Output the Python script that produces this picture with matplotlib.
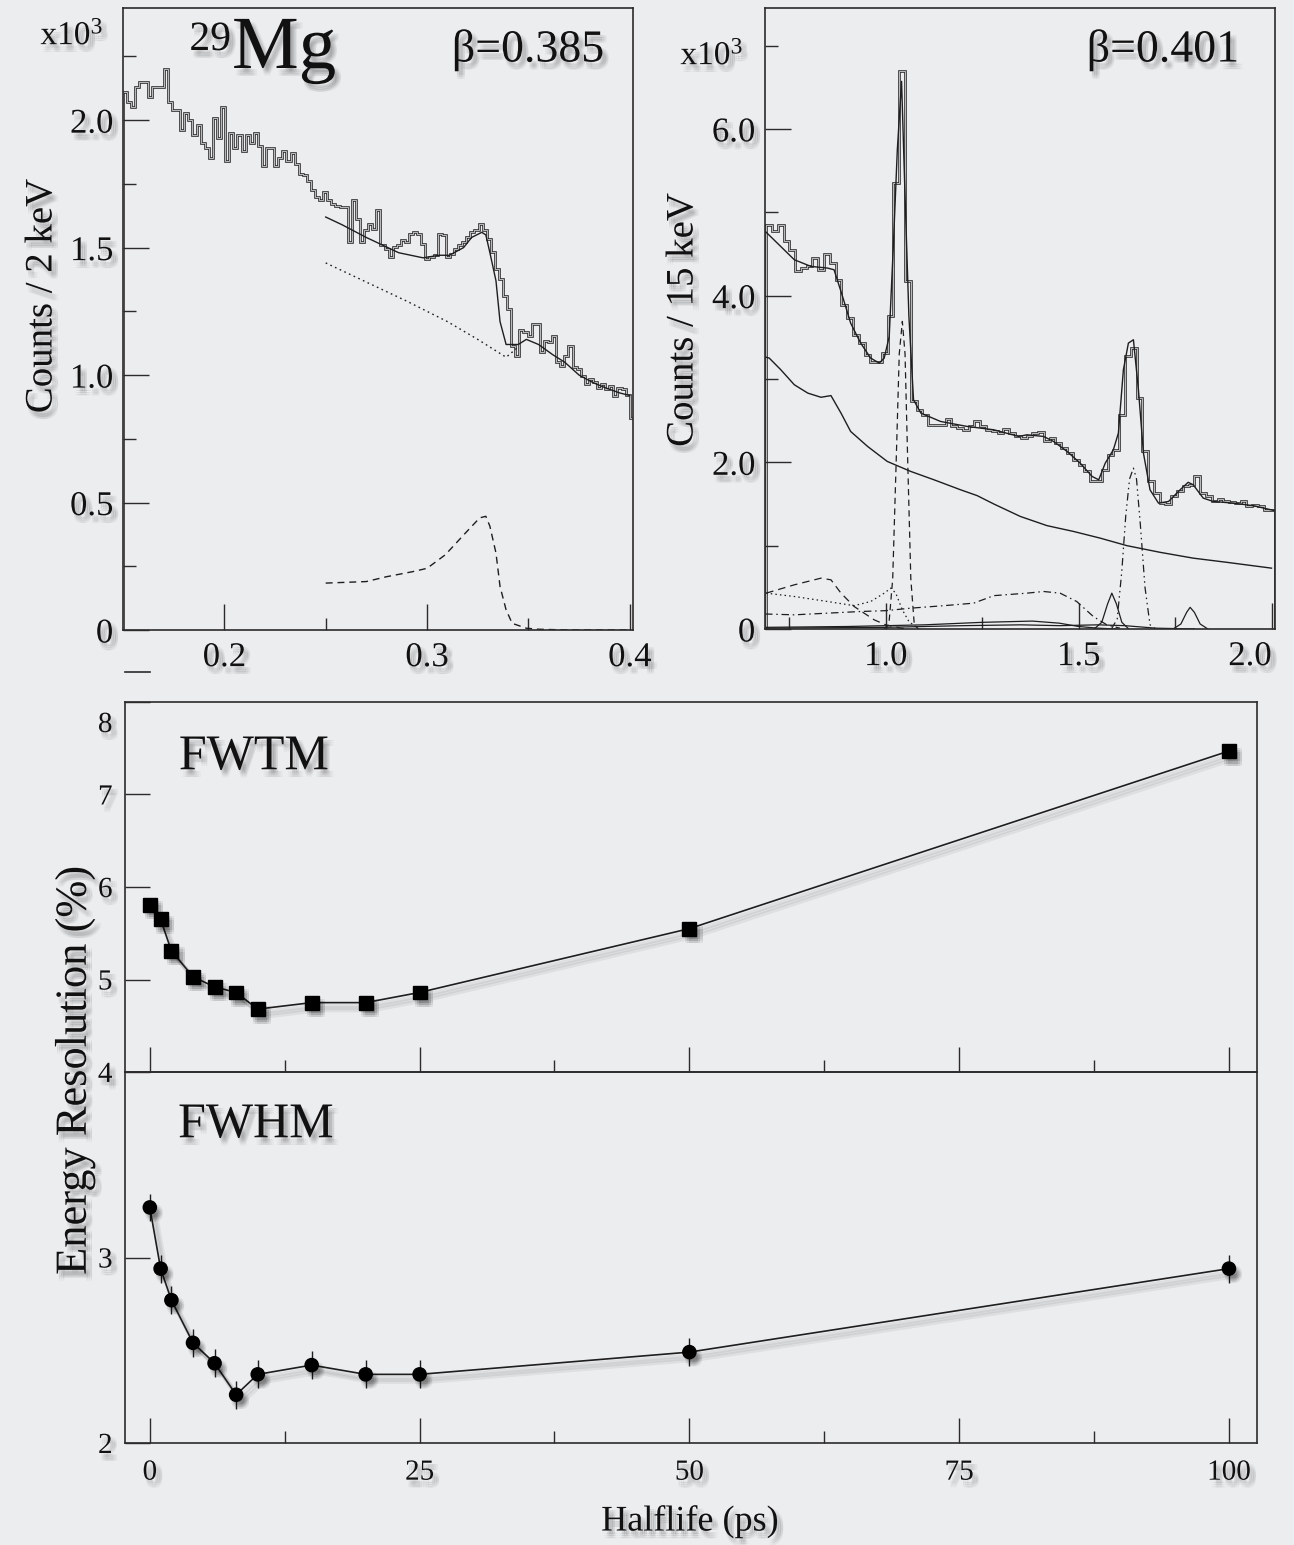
import matplotlib
matplotlib.use('Agg')
import matplotlib.pyplot as plt
import matplotlib.patheffects as pe
from matplotlib.lines import Line2D
from matplotlib.transforms import ScaledTranslation
import numpy as np

plt.rcParams['font.family'] = ['Liberation Serif', 'DejaVu Serif']
plt.rcParams['mathtext.fontset'] = 'custom'
plt.rcParams['mathtext.rm'] = 'Liberation Serif'
plt.rcParams['mathtext.it'] = 'Liberation Serif:italic'

# ---------------- data: 29Mg spectrum, beta = 0.385 (2 keV bins, MeV) ----------------
counts_a = [2.11, 2.07, 2.05, 2.13, 2.15, 2.15, 2.09, 2.13, 2.13, 2.13, 2.20, 2.07, 2.04, 2.04,
            1.96, 2.03, 2.00, 1.94, 1.98, 1.91, 1.89, 1.85, 2.01, 1.93, 2.05, 1.84, 1.95, 1.89,
            1.94, 1.88, 1.94, 1.91, 1.95, 1.90, 1.82, 1.89, 1.89, 1.82, 1.85, 1.88, 1.84, 1.87,
            1.83, 1.79,
            1.785, 1.76, 1.726, 1.70, 1.686, 1.72, 1.686, 1.673, 1.664, 1.66, 1.66, 1.522, 1.686,
            1.614, 1.522, 1.568, 1.594, 1.575, 1.647, 1.509, 1.496, 1.463, 1.503, 1.509, 1.529,
            1.522, 1.555, 1.562, 1.555, 1.516, 1.457, 1.463, 1.47, 1.555, 1.549, 1.463, 1.476,
            1.496, 1.509, 1.522, 1.542, 1.562, 1.568, 1.594, 1.568, 1.535, 1.483, 1.417, 1.378,
            1.312, 1.26, 1.116, 1.076, 1.175, 1.168, 1.155, 1.201, 1.201, 1.09, 1.135, 1.129,
            1.155, 1.05, 1.037, 1.076, 1.116, 1.03, 1.024, 0.997, 0.965, 0.984, 0.971, 0.951,
            0.965, 0.945, 0.958, 0.919, 0.951, 0.945, 0.92, 0.83]
edges_a = np.linspace(0.150, 0.402, len(counts_a) + 1)

fit_a_e = [0.250, 0.258, 0.270, 0.278, 0.286, 0.298, 0.306, 0.311, 0.318, 0.322, 0.327, 0.329,
           0.331, 0.334, 0.336, 0.339, 0.341, 0.345, 0.349, 0.355, 0.362, 0.368, 0.375, 0.382,
           0.388, 0.395, 0.400]
fit_a_v = [1.62, 1.59, 1.54, 1.51, 1.48, 1.46, 1.47, 1.47, 1.50, 1.54, 1.56, 1.55, 1.48, 1.37,
           1.21, 1.12, 1.12, 1.12, 1.14, 1.12, 1.08, 1.05, 1.00, 0.97, 0.95, 0.93, 0.92]
bkg_a_e = [0.250, 0.270, 0.290, 0.310, 0.325, 0.339, 0.345]
bkg_a_v = [1.44, 1.365, 1.29, 1.21, 1.14, 1.07, 1.11]
peak_a_e = [0.250, 0.260, 0.270, 0.280, 0.293, 0.300, 0.309, 0.319, 0.326, 0.329, 0.331, 0.334,
            0.336, 0.339, 0.342, 0.349, 0.355, 0.370, 0.400]
peak_a_v = [0.184, 0.187, 0.190, 0.209, 0.229, 0.242, 0.295, 0.381, 0.440, 0.446, 0.407, 0.302,
            0.171, 0.079, 0.026, 0.007, 0.003, 0.0, 0.0]

# ---------------- data: beta = 0.401 spectrum (15 keV bins, MeV) ----------------
counts_b = [4.85, 4.77, 4.85, 4.65, 4.55, 4.30, 4.33, 4.35, 4.45, 4.31, 4.50, 4.39, 4.19, 3.89,
            3.73, 3.53, 3.43, 3.29, 3.20, 3.20, 3.31, 3.75, 5.35, 6.70, 4.17, 2.73, 2.63, 2.57,
            2.45, 2.45, 2.45, 2.52, 2.43, 2.41, 2.39, 2.43, 2.49, 2.43, 2.39, 2.37, 2.35, 2.40,
            2.35, 2.31, 2.29, 2.32, 2.35, 2.36, 2.25, 2.29, 2.23, 2.17, 2.11, 2.03, 1.97, 1.90,
            1.77, 1.77, 1.91, 2.09, 2.15, 2.57, 3.27, 3.37, 2.77, 2.13, 1.77, 1.63, 1.51, 1.50,
            1.59, 1.65, 1.71, 1.73, 1.83, 1.63, 1.59, 1.53, 1.56, 1.54, 1.52, 1.51, 1.53, 1.48,
            1.49, 1.48, 1.43, 1.43]
edges_b = np.linspace(0.690, 2.010, len(counts_b) + 1)

fit_b_e = [0.690, 0.763, 0.806, 0.849, 0.866, 0.888, 0.909, 0.935, 0.961, 0.983, 0.996, 1.009,
           1.020, 1.030, 1.041, 1.049, 1.060, 1.072, 1.091, 1.142, 1.211, 1.280, 1.345, 1.366,
           1.409, 1.435, 1.470, 1.504, 1.535, 1.552, 1.569, 1.590, 1.603, 1.616, 1.629, 1.642,
           1.655, 1.668, 1.685, 1.707, 1.733, 1.763, 1.784, 1.797, 1.823, 1.849, 1.901, 1.952,
           2.008]
fit_b_v = [4.76, 4.43, 4.35, 4.33, 4.31, 3.99, 3.67, 3.43, 3.25, 3.19, 3.25, 3.51, 4.63, 5.75,
           6.57, 5.35, 3.75, 2.75, 2.59, 2.49, 2.43, 2.39, 2.31, 2.33, 2.31, 2.25, 2.13, 1.99,
           1.83, 1.79, 1.99, 2.15, 2.35, 3.11, 3.43, 3.47, 2.87, 2.11, 1.67, 1.51, 1.53, 1.67,
           1.76, 1.73, 1.57, 1.53, 1.51, 1.48, 1.42]
bkg_b_e = [0.690, 0.698, 0.728, 0.763, 0.798, 0.832, 0.858, 0.884, 0.909, 0.953, 1.004, 1.065,
           1.125, 1.194, 1.237, 1.280, 1.349, 1.418, 1.487, 1.556, 1.625, 1.711, 1.797, 1.884,
           2.000]
bkg_b_v = [3.26, 3.25, 3.11, 2.93, 2.83, 2.78, 2.80, 2.59, 2.37, 2.19, 2.01, 1.89, 1.79, 1.67,
           1.60, 1.50, 1.35, 1.24, 1.17, 1.09, 1.00, 0.92, 0.85, 0.80, 0.73]
pk1_e = [0.995, 1.008, 1.018, 1.027, 1.035, 1.043, 1.050, 1.057, 1.065, 1.074, 1.085]
pk1_v = [0.0, 0.05, 0.6, 2.0, 3.3, 3.69, 3.3, 2.0, 0.6, 0.05, 0.0]
pk2_e = [1.585, 1.600, 1.612, 1.622, 1.632, 1.642, 1.650, 1.660, 1.672, 1.685, 1.700]
pk2_v = [0.0, 0.12, 0.7, 1.35, 1.80, 1.93, 1.80, 1.25, 0.50, 0.05, 0.0]
broad_e = [0.690, 0.763, 0.832, 0.858, 0.884, 0.918, 0.970, 1.000, 1.040, 1.060]
broad_v = [0.43, 0.53, 0.61, 0.59, 0.43, 0.27, 0.11, 0.05, 0.01, 0.0]
dash_dot_e = [0.687, 0.763, 0.849, 0.935, 1.000, 1.065, 1.151, 1.228, 1.280, 1.366, 1.409,
              1.452, 1.495, 1.538, 1.573, 1.607]
dash_dot_v = [0.18, 0.17, 0.19, 0.21, 0.22, 0.25, 0.28, 0.31, 0.40, 0.43, 0.45, 0.43, 0.33,
              0.15, 0.05, 0.01]
dotted_e = [0.690, 0.763, 0.849, 0.918, 0.961, 0.996, 1.013, 1.026, 1.043, 1.060, 1.082]
dotted_v = [0.43, 0.39, 0.33, 0.28, 0.33, 0.43, 0.49, 0.43, 0.23, 0.09, 0.01]
small1_e = [1.540, 1.560, 1.575, 1.586, 1.598, 1.612, 1.630]
small1_v = [0.0, 0.08, 0.30, 0.43, 0.30, 0.08, 0.0]
small2_e = [1.745, 1.765, 1.780, 1.789, 1.800, 1.815, 1.835]
small2_v = [0.0, 0.06, 0.20, 0.26, 0.20, 0.06, 0.0]
lowa_e = [0.690, 0.900, 1.100, 1.250, 1.380, 1.450, 1.500, 1.550, 1.600]
lowa_v = [0.02, 0.03, 0.05, 0.08, 0.095, 0.07, 0.03, 0.01, 0.0]
lowb_e = [0.690, 1.000, 1.200, 1.350, 1.450, 1.550, 1.620, 1.700, 1.800]
lowb_v = [0.01, 0.02, 0.04, 0.05, 0.04, 0.05, 0.04, 0.01, 0.0]

# ---------------- data: energy resolution vs halflife ----------------
halflife = [0, 1, 2, 4, 6, 8, 10, 15, 20, 25, 50, 100]
fwtm = [5.81, 5.65, 5.31, 5.03, 4.92, 4.86, 4.68, 4.75, 4.75, 4.86, 5.55, 7.47]
fwhm = [3.27, 2.94, 2.77, 2.54, 2.43, 2.26, 2.37, 2.42, 2.37, 2.37, 2.49, 2.94]
fwhm_err = [0.075, 0.075, 0.075, 0.075, 0.075, 0.075, 0.075, 0.075, 0.075, 0.075, 0.075, 0.075]

# ---------------- layout ----------------
W, H = 1294, 1545
BG = '#ecedef'
INK = '#1e1e1e'

fig = plt.figure(figsize=(W / 100, H / 100), dpi=100)
fig.patch.set_facecolor(BG)


def box(l, t, r, b):
    return [l / W, 1 - b / H, (r - l) / W, (b - t) / H]


def shadow(alpha=0.035):
    fx = []
    for a in (-1.5, 0, 1.5):
        for b in (-1.5, 0, 1.5):
            fx.append(pe.SimplePatchShadow(offset=(3 + a, -4 + b), shadow_rgbFace='black', alpha=alpha))
    fx.append(pe.Normal())
    return fx


def line_shadow():
    fx = []
    for a in (-1.5, 0, 1.5):
        fx.append(pe.SimpleLineShadow(offset=(3 + a, -4 - a), shadow_color='black', alpha=0.06, linewidth=3))
    fx.append(pe.Normal())
    return fx


def style(ax, size, major, minor):
    ax.set_facecolor('none')
    for s in ax.spines.values():
        s.set_color('#2b2b2b')
        s.set_linewidth(1.2)
    ax.tick_params(which='both', direction='in', color='#2b2b2b', width=1.0, labelsize=size, labelcolor='#111')
    ax.tick_params(which='major', length=major)
    ax.tick_params(which='minor', length=minor)


def shade_labels(ax):
    for lbl in ax.get_xticklabels() + ax.get_yticklabels():
        lbl.set_path_effects(shadow())


hist_fx = [pe.Stroke(linewidth=1.9, foreground='#2e2e2e'), pe.Normal()]

# ---- top left panel ----
ax1 = fig.add_axes(box(123, 8, 633, 630))
style(ax1, 25, 19, 9)
ax1.stairs(counts_a, edges_a, color='#d4d5d7', linewidth=0.6, path_effects=hist_fx)
ax1.plot(fit_a_e, fit_a_v, color=INK, lw=1.0)
ax1.plot(bkg_a_e, bkg_a_v, color=INK, lw=1.0, ls=(0, (1.2, 2.5)))
ax1.plot(peak_a_e, peak_a_v, color=INK, lw=1.0, ls=(0, (5, 3.5)))
ax1.set_xlim(0.150, 0.4016)
ax1.set_ylim(0, 2.44)
ax1.set_xticks([0.2, 0.3, 0.4], ['0.2', '0.3', '0.4'])
ax1.set_xticks([0.25, 0.35], minor=True)
ax1.set_yticks([0, 0.5, 1.0, 1.5, 2.0], ['0', '0.5', '1.0', '1.5', '2.0'])
ax1.set_yticks([0.25, 0.75, 1.25, 1.75, 2.25], minor=True)
ax1.tick_params(axis='x', pad=8)
ax1.tick_params(axis='y', pad=7)
shade_labels(ax1)

# ---- top right panel ----
ax2 = fig.add_axes(box(765, 8, 1275, 629))
style(ax2, 25, 19, 9)
ax2.stairs(counts_b, edges_b, color='#d4d5d7', linewidth=0.6, path_effects=hist_fx)
ax2.plot(fit_b_e, fit_b_v, color=INK, lw=1.0)
ax2.plot(bkg_b_e, bkg_b_v, color=INK, lw=1.0)
ax2.plot(pk1_e, pk1_v, color=INK, lw=0.9, ls=(0, (5, 3.5)))
ax2.plot(pk2_e, pk2_v, color=INK, lw=0.9, ls=(0, (6, 3, 1.2, 3, 1.2, 3)))
ax2.plot(broad_e, broad_v, color=INK, lw=0.9, ls=(0, (6, 4)))
ax2.plot(dash_dot_e, dash_dot_v, color=INK, lw=0.9, ls=(0, (6, 3, 1.2, 3)))
ax2.plot(dotted_e, dotted_v, color=INK, lw=0.9, ls=(0, (1.2, 2.5)))
ax2.plot(small1_e, small1_v, color=INK, lw=0.9)
ax2.plot(small2_e, small2_v, color=INK, lw=0.9)
ax2.plot(lowa_e, lowa_v, color=INK, lw=0.9)
ax2.plot(lowb_e, lowb_v, color=INK, lw=0.9)
ax2.set_xlim(0.687, 2.009)
ax2.set_ylim(0, 7.45)
ax2.set_xticks([1.0, 1.5, 2.0], ['1.0', '1.5', '2.0'])
ax2.get_xticklabels()[-1].set_ha('right')
ax2.set_xticks([0.75, 1.25, 1.75], minor=True)
ax2.set_yticks([0, 2, 4, 6], ['0', '2.0', '4.0', '6.0'])
ax2.set_yticks([1, 3, 5, 7], minor=True)
ax2.tick_params(axis='x', pad=8)
ax2.tick_params(axis='y', pad=7)
shade_labels(ax2)

# ---- FWTM panel ----
ax3 = fig.add_axes(box(125, 702, 1257, 1072))
style(ax3, 21, 18, 9)
ax3.plot(halflife, fwtm, color=INK, lw=1.2, path_effects=line_shadow())
ax3.plot(halflife, fwtm, ls='none', marker='s', ms=10, color='black', path_effects=shadow(0.05))
ax3.set_xlim(-2.3, 102.6)
ax3.set_ylim(4, 8)
ax3.set_xticks([0, 25, 50, 75, 100])
ax3.set_xticks([12.5, 37.5, 62.5, 87.5], minor=True)
ax3.set_yticks([4, 5, 6, 7, 8], ['4', '5', '6', '7', '8'])
ax3.tick_params(axis='x', labelbottom=False)
ax3.tick_params(axis='y', pad=9)
top_lbl = ax3.get_yticklabels()[-1]
top_lbl.set_transform(top_lbl.get_transform() + ScaledTranslation(0, -0.2, fig.dpi_scale_trans))
shade_labels(ax3)

# ---- FWHM panel ----
ax4 = fig.add_axes(box(125, 1072, 1257, 1443))
style(ax4, 21, 18, 9)
ax4.errorbar(halflife, fwhm, yerr=fwhm_err, fmt='none', ecolor=INK, elinewidth=1.0, capsize=0)
ax4.plot(halflife, fwhm, color=INK, lw=1.2, path_effects=line_shadow())
ax4.plot(halflife, fwhm, ls='none', marker='o', ms=9.5, color='black', path_effects=shadow(0.05))
ax4.set_xlim(-2.3, 102.6)
ax4.set_ylim(2, 4)
ax4.set_xticks([0, 25, 50, 75, 100], ['0', '25', '50', '75', '100'])
ax4.set_xticks([12.5, 37.5, 62.5, 87.5], minor=True)
ax4.set_yticks([2, 3], ['2', '3'])
ax4.tick_params(axis='x', pad=12)
ax4.tick_params(axis='y', pad=9)
shade_labels(ax4)


# ---------------- text ----------------
def ftext(x, y, s, size, **kw):
    return fig.text(x / W, 1 - y / H, s, fontsize=size, color='#111', path_effects=shadow(), **kw)


ftext(72, 36, r'x10$^3$', 24, ha='center', va='center')
ftext(712, 56, r'x10$^3$', 24, ha='center', va='center')
ftext(42, 296, 'Counts / 2 keV', 28, rotation=90, ha='center', va='center')
ftext(683, 320, 'Counts / 15 keV', 28, rotation=90, ha='center', va='center')
ftext(232, 68, 'Mg', 54, ha='left', va='baseline')
ftext(231, 50, '29', 30, ha='right', va='baseline')
ftext(528, 50, 'β=0.385', 33, ha='center', va='center')
ftext(1163, 50, 'β=0.401', 33, ha='center', va='center')
ftext(254, 757, 'FWTM', 36, ha='center', va='center')
ftext(256, 1125, 'FWHM', 36, ha='center', va='center')
ftext(75, 1070, 'Energy Resolution (%)', 32, rotation=90, ha='center', va='center')
ftext(690, 1522, 'Halflife (ps)', 26, ha='center', va='center')

fig.add_artist(Line2D([125 / W, 150 / W], [1 - 672 / H, 1 - 672 / H], color='#2b2b2b', lw=1.2))

fig.savefig('out.png', dpi=100, facecolor=BG)
